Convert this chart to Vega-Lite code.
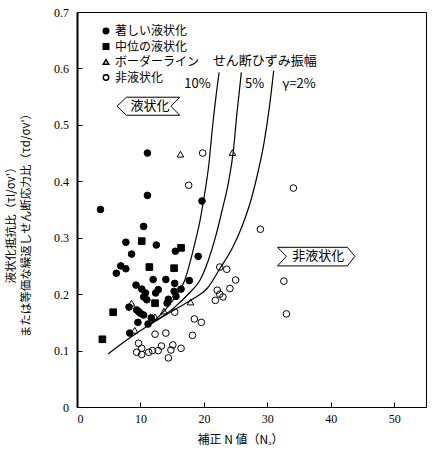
{
  "$schema": "https://vega.github.io/schema/vega-lite/v6.json",
  "width": 349,
  "height": 395,
  "autosize": "none",
  "padding": {"left": 77, "top": 12, "right": 22, "bottom": 46},
  "background": "white",
  "config": {
    "view": {"stroke": "black", "strokeWidth": 1},
    "axis": {"grid": false, "labelFont": "Liberation Serif", "labelFontSize": 12, "labelColor": "black", "titleColor": "black", "domainColor": "black", "tickColor": "black"}
  },
  "encoding": {
    "x": {"field": "N", "type": "quantitative", "scale": {"domain": [0, 55], "nice": false},
      "axis": {"values": [0, 10, 20, 30, 40, 50], "tickSize": -5, "labelPadding": 11, "domainWidth": 1,
        "title": "補正 N 値（Nₐ）", "titleFont": "Noto Sans CJK JP", "titleFontSize": 12, "titleFontWeight": "normal",
        "titleX": 163, "titleY": 27, "titleBaseline": "top"}},
    "y": {"field": "v", "type": "quantitative", "scale": {"domain": [0, 0.7], "nice": false},
      "axis": {"values": [0, 0.1, 0.2, 0.3, 0.4, 0.5, 0.6, 0.7], "tickSize": -5, "labelPadding": 13.5, "domainWidth": 2,
        "labelExpr": "datum.value == 0 ? '0' : format(datum.value, '.1f')",
        "title": ["液状化抵抗比（τl/σv'）", "または等価な繰返しせん断応力比（τd/σv'）"],
        "titleFont": "Noto Sans CJK JP", "titleFontSize": 11.5, "titleFontWeight": "normal", "titleLineHeight": 15,
        "titleX": -61, "titleY": 210, "titleAngle": 270, "titleBaseline": "bottom", "titleAlign": "center"}}
  },
  "layer": [
    {
      "data": {"values": [
        {"c": "10%", "i": 1, "N": 11.3, "v": 0.145}, {"c": "10%", "i": 2, "N": 13.9, "v": 0.172}, {"c": "10%", "i": 3, "N": 15.9, "v": 0.202},
        {"c": "10%", "i": 4, "N": 17.0, "v": 0.225}, {"c": "10%", "i": 5, "N": 17.9, "v": 0.26}, {"c": "10%", "i": 6, "N": 18.7, "v": 0.296},
        {"c": "10%", "i": 7, "N": 19.4, "v": 0.331}, {"c": "10%", "i": 8, "N": 20.0, "v": 0.37}, {"c": "10%", "i": 9, "N": 20.8, "v": 0.432},
        {"c": "10%", "i": 10, "N": 21.3, "v": 0.49}, {"c": "10%", "i": 11, "N": 21.9, "v": 0.55}, {"c": "10%", "i": 12, "N": 22.4, "v": 0.593},
        {"c": "5%", "i": 1, "N": 11.3, "v": 0.145}, {"c": "5%", "i": 2, "N": 15.4, "v": 0.177}, {"c": "5%", "i": 3, "N": 17.7, "v": 0.202},
        {"c": "5%", "i": 4, "N": 19.4, "v": 0.225}, {"c": "5%", "i": 5, "N": 20.7, "v": 0.26}, {"c": "5%", "i": 6, "N": 21.8, "v": 0.30},
        {"c": "5%", "i": 7, "N": 22.9, "v": 0.35}, {"c": "5%", "i": 8, "N": 23.9, "v": 0.40}, {"c": "5%", "i": 9, "N": 24.6, "v": 0.45},
        {"c": "5%", "i": 10, "N": 25.2, "v": 0.52}, {"c": "5%", "i": 11, "N": 25.9, "v": 0.593},
        {"c": "2%", "i": 1, "N": 4.9, "v": 0.094}, {"c": "2%", "i": 2, "N": 8.0, "v": 0.12}, {"c": "2%", "i": 3, "N": 11.3, "v": 0.145},
        {"c": "2%", "i": 4, "N": 13.5, "v": 0.16}, {"c": "2%", "i": 5, "N": 15.9, "v": 0.176}, {"c": "2%", "i": 6, "N": 18.5, "v": 0.193},
        {"c": "2%", "i": 7, "N": 20.5, "v": 0.21}, {"c": "2%", "i": 8, "N": 22.5, "v": 0.245}, {"c": "2%", "i": 9, "N": 24.4, "v": 0.28},
        {"c": "2%", "i": 10, "N": 26.0, "v": 0.32}, {"c": "2%", "i": 11, "N": 27.5, "v": 0.37}, {"c": "2%", "i": 12, "N": 28.6, "v": 0.42},
        {"c": "2%", "i": 13, "N": 29.5, "v": 0.47}, {"c": "2%", "i": 14, "N": 30.3, "v": 0.53}, {"c": "2%", "i": 15, "N": 31.0, "v": 0.596}
      ]},
      "mark": {"type": "line", "color": "black", "strokeWidth": 1.2, "interpolate": "monotone"},
      "encoding": {"detail": {"field": "c"}, "order": {"field": "i", "type": "quantitative"}}
    },
    {
      "data": {"values": [
        {"b": "L", "i": 1, "N": 6.3, "v": 0.533}, {"b": "L", "i": 2, "N": 7.8, "v": 0.549}, {"b": "L", "i": 3, "N": 16.2, "v": 0.549},
        {"b": "L", "i": 4, "N": 14.8, "v": 0.533}, {"b": "L", "i": 5, "N": 16.2, "v": 0.517}, {"b": "L", "i": 6, "N": 7.8, "v": 0.517},
        {"b": "L", "i": 7, "N": 6.3, "v": 0.533},
        {"b": "R", "i": 1, "N": 31.6, "v": 0.283}, {"b": "R", "i": 2, "N": 42.6, "v": 0.283}, {"b": "R", "i": 3, "N": 43.8, "v": 0.267},
        {"b": "R", "i": 4, "N": 42.6, "v": 0.25}, {"b": "R", "i": 5, "N": 31.6, "v": 0.25}, {"b": "R", "i": 6, "N": 33.0, "v": 0.267},
        {"b": "R", "i": 7, "N": 31.6, "v": 0.283}
      ]},
      "mark": {"type": "line", "color": "black", "strokeWidth": 1},
      "encoding": {"detail": {"field": "b"}, "order": {"field": "i", "type": "quantitative"}}
    },
    {
      "data": {"values": [
        {"t": "著しい液状化", "N": 3.7, "v": 0.35}, {"t": "著しい液状化", "N": 11.1, "v": 0.45}, {"t": "著しい液状化", "N": 11.1, "v": 0.375},
        {"t": "著しい液状化", "N": 19.7, "v": 0.365}, {"t": "著しい液状化", "N": 10.5, "v": 0.32}, {"t": "著しい液状化", "N": 7.7, "v": 0.292},
        {"t": "著しい液状化", "N": 12.5, "v": 0.287}, {"t": "著しい液状化", "N": 8.6, "v": 0.271}, {"t": "著しい液状化", "N": 15.5, "v": 0.276},
        {"t": "著しい液状化", "N": 19.1, "v": 0.267}, {"t": "著しい液状化", "N": 6.9, "v": 0.25}, {"t": "著しい液状化", "N": 7.7, "v": 0.245},
        {"t": "著しい液状化", "N": 6.2, "v": 0.237}, {"t": "著しい液状化", "N": 12.0, "v": 0.226}, {"t": "著しい液状化", "N": 14.0, "v": 0.226},
        {"t": "著しい液状化", "N": 17.7, "v": 0.224}, {"t": "著しい液状化", "N": 9.3, "v": 0.216}, {"t": "著しい液状化", "N": 10.2, "v": 0.209},
        {"t": "著しい液状化", "N": 10.8, "v": 0.202}, {"t": "著しい液状化", "N": 15.4, "v": 0.219}, {"t": "著しい液状化", "N": 12.8, "v": 0.208},
        {"t": "著しい液状化", "N": 12.4, "v": 0.202}, {"t": "著しい液状化", "N": 10.5, "v": 0.195}, {"t": "著しい液状化", "N": 11.0, "v": 0.19},
        {"t": "著しい液状化", "N": 16.4, "v": 0.209}, {"t": "著しい液状化", "N": 15.3, "v": 0.205}, {"t": "著しい液状化", "N": 14.4, "v": 0.191},
        {"t": "著しい液状化", "N": 15.6, "v": 0.196}, {"t": "著しい液状化", "N": 14.2, "v": 0.184}, {"t": "著しい液状化", "N": 8.2, "v": 0.177},
        {"t": "著しい液状化", "N": 9.4, "v": 0.172}, {"t": "著しい液状化", "N": 10.0, "v": 0.166}, {"t": "著しい液状化", "N": 9.7, "v": 0.169},
        {"t": "著しい液状化", "N": 10.5, "v": 0.163}, {"t": "著しい液状化", "N": 9.6, "v": 0.15}, {"t": "著しい液状化", "N": 11.7, "v": 0.158},
        {"t": "著しい液状化", "N": 11.2, "v": 0.147}, {"t": "著しい液状化", "N": 8.3, "v": 0.131},
        {"t": "中位の液状化", "N": 10.2, "v": 0.294}, {"t": "中位の液状化", "N": 16.4, "v": 0.282}, {"t": "中位の液状化", "N": 11.4, "v": 0.248},
        {"t": "中位の液状化", "N": 15.3, "v": 0.246}, {"t": "中位の液状化", "N": 12.3, "v": 0.184}, {"t": "中位の液状化", "N": 5.7, "v": 0.168},
        {"t": "中位の液状化", "N": 4.0, "v": 0.12},
        {"t": "ボーダーライン", "N": 16.3, "v": 0.448}, {"t": "ボーダーライン", "N": 24.5, "v": 0.451}, {"t": "ボーダーライン", "N": 8.6, "v": 0.184},
        {"t": "ボーダーライン", "N": 9.1, "v": 0.136}, {"t": "ボーダーライン", "N": 12.3, "v": 0.16}, {"t": "ボーダーライン", "N": 13.7, "v": 0.17},
        {"t": "ボーダーライン", "N": 17.9, "v": 0.186},
        {"t": "非液状化", "N": 19.8, "v": 0.45}, {"t": "非液状化", "N": 17.6, "v": 0.393}, {"t": "非液状化", "N": 34.1, "v": 0.388},
        {"t": "非液状化", "N": 28.9, "v": 0.315}, {"t": "非液状化", "N": 22.5, "v": 0.248}, {"t": "非液状化", "N": 23.6, "v": 0.244},
        {"t": "非液状化", "N": 25.0, "v": 0.225}, {"t": "非液状化", "N": 24.1, "v": 0.21}, {"t": "非液状化", "N": 22.1, "v": 0.207},
        {"t": "非液状化", "N": 22.5, "v": 0.2}, {"t": "非液状化", "N": 23.0, "v": 0.195}, {"t": "非液状化", "N": 21.8, "v": 0.189},
        {"t": "非液状化", "N": 32.6, "v": 0.223}, {"t": "非液状化", "N": 33.0, "v": 0.165}, {"t": "非液状化", "N": 18.5, "v": 0.156},
        {"t": "非液状化", "N": 19.6, "v": 0.15}, {"t": "非液状化", "N": 15.4, "v": 0.168}, {"t": "非液状化", "N": 12.3, "v": 0.129},
        {"t": "非液状化", "N": 14.0, "v": 0.131}, {"t": "非液状化", "N": 18.2, "v": 0.127}, {"t": "非液状化", "N": 9.7, "v": 0.113},
        {"t": "非液状化", "N": 10.2, "v": 0.104}, {"t": "非液状化", "N": 9.4, "v": 0.097}, {"t": "非液状化", "N": 10.2, "v": 0.093},
        {"t": "非液状化", "N": 11.3, "v": 0.097}, {"t": "非液状化", "N": 11.9, "v": 0.1}, {"t": "非液状化", "N": 13.3, "v": 0.108},
        {"t": "非液状化", "N": 12.8, "v": 0.1}, {"t": "非液状化", "N": 15.1, "v": 0.11}, {"t": "非液状化", "N": 14.8, "v": 0.101},
        {"t": "非液状化", "N": 16.4, "v": 0.104}, {"t": "非液状化", "N": 14.4, "v": 0.087}
      ]},
      "mark": {"type": "point", "filled": true, "stroke": "black", "strokeWidth": 1, "opacity": 1, "size": 44},
      "encoding": {
        "shape": {"field": "t", "type": "nominal",
          "scale": {"domain": ["著しい液状化", "中位の液状化", "ボーダーライン", "非液状化"], "range": ["circle", "square", "triangle-up", "circle"]},
          "legend": {"title": null, "orient": "none", "legendX": 23, "legendY": 13, "padding": 0,
            "labelFont": "Noto Sans CJK JP", "labelFontSize": 12, "labelColor": "black", "labelOffset": 3,
            "symbolSize": 30, "rowPadding": 3.5,
            "encode": {"symbols": {"update": {
              "stroke": {"value": "black"}, "strokeWidth": {"value": 1},
              "fill": {"signal": "indexof(['著しい液状化', '中位の液状化'], datum.value) >= 0 ? 'black' : 'transparent'"}}}}}},
        "fill": {"field": "t", "type": "nominal",
          "scale": {"domain": ["著しい液状化", "中位の液状化", "ボーダーライン", "非液状化"], "range": ["black", "black", "transparent", "transparent"]},
          "legend": null}
      }
    },
    {
      "data": {"values": [
        {"N": 29.6, "v": 0.613, "s": "せん断ひずみ振幅"},
        {"N": 19.0, "v": 0.573, "s": "10%"},
        {"N": 28.0, "v": 0.573, "s": "5%"},
        {"N": 35.0, "v": 0.573, "s": "γ=2%"},
        {"N": 11.5, "v": 0.533, "s": "液状化"},
        {"N": 38.0, "v": 0.267, "s": "非液状化"}
      ]},
      "mark": {"type": "text", "font": "Noto Sans CJK JP", "fontSize": 13, "color": "black", "align": "center", "baseline": "middle"},
      "encoding": {"text": {"field": "s"}}
    }
  ]
}
